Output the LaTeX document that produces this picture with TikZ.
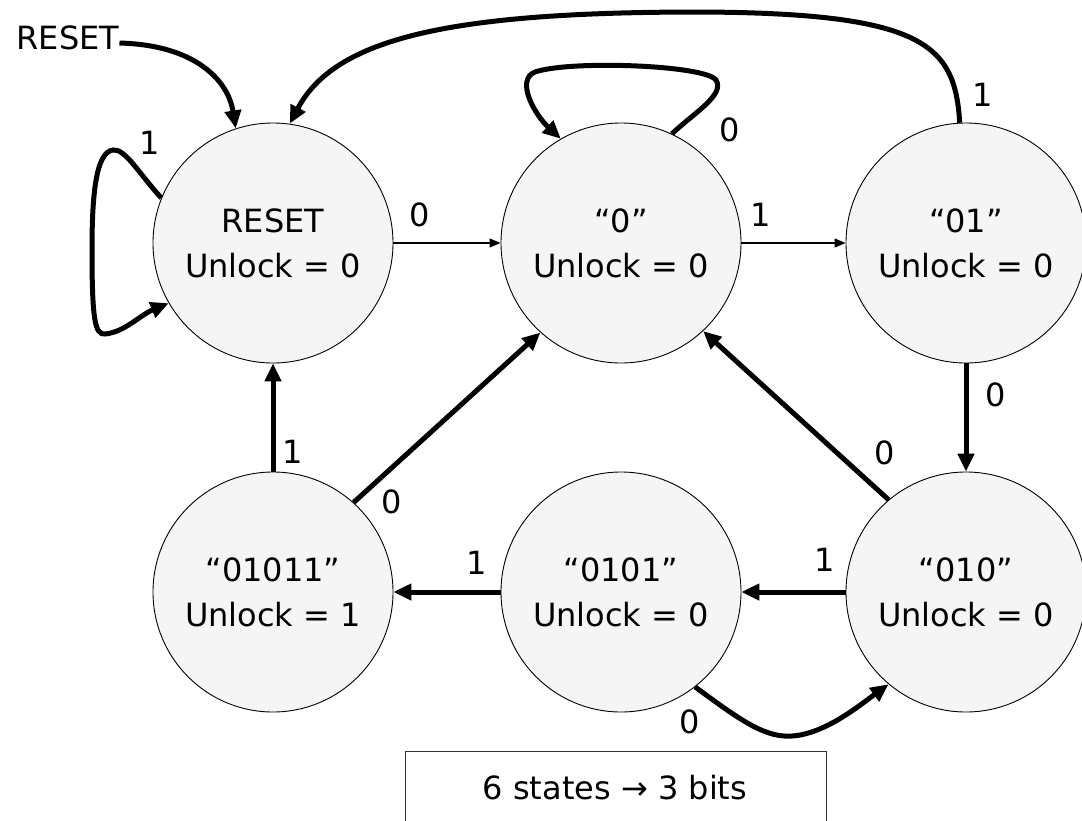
\documentclass[tikz,border=0pt]{standalone}
\usepackage{fontspec}
\setmainfont{DejaVu Sans}
\usetikzlibrary{arrows.meta}
\definecolor{statefill}{HTML}{F5F5F5}
\definecolor{framegray}{HTML}{333333}
\begin{document}
\begin{tikzpicture}[x=1pt,y=-1pt,
  state/.style={circle,draw=black,line width=0.9pt,fill=statefill,
    minimum size=240pt,inner sep=0pt,align=center,
    font=\fontsize{32}{45}\selectfont},
  lbl/.style={font=\fontsize{32}{38}\selectfont,inner sep=0pt},
  lightedge/.style={line width=1.3pt,-{Triangle[length=11pt,width=9pt]}},
  heavyedge/.style={line width=5pt,-{Triangle[length=18pt,width=16pt]}},
]
\useasboundingbox (0,0) rectangle (1082,820);

% states
\node[state] (r)     at (273,243) {RESET\\Unlock = 0};
\node[state] (q0)    at (621,243) {“0”\\Unlock = 0};
\node[state] (q01)   at (966,243) {“01”\\Unlock = 0};
\node[state] (q011)  at (273,592) {“01011”\\Unlock = 1};
\node[state] (q0101) at (621,592) {“0101”\\Unlock = 0};
\node[state] (q010)  at (966,592) {“010”\\Unlock = 0};

% reset input
\node[lbl] (resetin) at (68,38) {RESET};
\draw[heavyedge] ([yshift=-5pt]resetin.east) .. controls (195,45) and (228,80) .. (r.108);

% transitions
\draw[heavyedge] (q01.93) .. controls (955,45) and (925,13) .. (700,12)
  .. controls (450,12) and (335,38) .. (r.82);
\node[lbl] (l1a) at (983,95) {1};

\draw[heavyedge] (r.158) .. controls (140,175) and (125,148) .. (113,150)
  .. controls (95,152) and (92,200) .. (92,250)
  .. controls (92,320) and (95,335) .. (105,334)
  .. controls (125,332) and (140,315) .. (r.210);
\node[lbl] (l1b) at (150,143) {1};

\draw[heavyedge] (q0.65) .. controls (695,112) and (725,95) .. (716,80)
  .. controls (705,65) and (570,60) .. (535,72)
  .. controls (515,80) and (535,115) .. (q0.120);
\node[lbl] (l0a) at (730,130) {0};

\draw[lightedge] (r) -- (q0);
\node[lbl] (l0b) at (420,215) {0};
\draw[lightedge] (q0) -- (q01);
\node[lbl] (l1c) at (761,215) {1};

\draw[heavyedge] (q01) -- (q010);
\node[lbl] (l0c) at (996,395) {0};
\draw[heavyedge] (q010.130) -- (q0.313);
\node[lbl] (l0d) at (885,453) {0};
\draw[heavyedge] (q010) -- (q0101);
\node[lbl] (l1d) at (825,560) {1};
\draw[heavyedge] (q0101) -- (q011);
\node[lbl] (l1e) at (477,563) {1};
\draw[heavyedge] (q011) -- (r);
\node[lbl] (l1f) at (293,452) {1};
\draw[heavyedge] (q011.48) -- (q0.228);
\node[lbl] (l0e) at (392,502) {0};

\draw[heavyedge] (q0101.308) .. controls (740,720) and (765,738) .. (792,736)
  .. controls (825,734) and (860,705) .. (q010.230);
\node[lbl] (l0f) at (690,722) {0};

% summary note
\node[lbl] (note) at (615,788) {6 states → 3 bits};
\draw[framegray,line width=1pt] (405,830) -- (405,751) -- (826,751) -- (826,830);
\end{tikzpicture}
\end{document}
